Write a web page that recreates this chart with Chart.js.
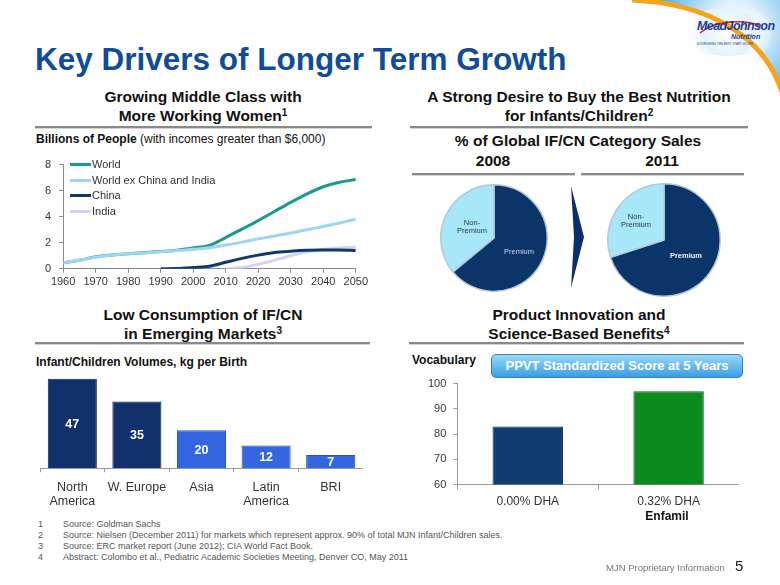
<!DOCTYPE html>
<html>
<head>
<meta charset="utf-8">
<script src="https://cdn.jsdelivr.net/npm/chart.js@4.4.1/dist/chart.umd.min.js"></script>
<style>
  html,body{margin:0;padding:0;background:#fff;}
  #slide{position:relative;width:780px;height:585px;overflow:hidden;background:#fff;font-family:"Liberation Sans",Arial,Helvetica,sans-serif;color:#111;}
  .a{position:absolute;white-space:nowrap;}
  .title{left:35px;top:41px;font-size:31.5px;font-weight:bold;color:#0F4C9A;line-height:36px;}
  .hd{font-size:15.5px;font-weight:bold;text-align:center;line-height:19px;transform:translateX(-50%);}
  .hd sup{font-size:10px;line-height:0;vertical-align:5px;}
  .rule{position:absolute;height:2px;background:#8a8a8a;border-bottom:1px solid #d4d4d4;}
  .sub{font-size:12px;line-height:14px;color:#111;}
  .sub b{font-weight:bold;}
  canvas{position:absolute;}
  .leg{font-size:11px;line-height:13px;color:#333;}
  .sw{position:absolute;left:-22px;top:5px;width:21px;height:3px;}
  .plab{font-size:7.5px;line-height:8px;text-align:center;transform:translate(-50%,-50%);}
  .foot{font-size:9px;line-height:11px;color:#555;}
  .banner{left:491px;top:354px;width:252px;height:24px;border-radius:5px;border:1px solid #2E86CF;box-sizing:border-box;
          background:linear-gradient(#9BD8F8,#63B9EE 55%,#3C9DE3);color:#fff;font-weight:bold;font-size:13px;line-height:22px;text-align:center;}
</style>
</head>
<body>
<div id="slide">
  <!-- top-right decoration -->
  <svg class="a" style="left:600px;top:0px" width="180" height="100" viewBox="600 0 180 100">
    <defs>
      <radialGradient id="sky" cx="735" cy="30" r="80" gradientUnits="userSpaceOnUse">
        <stop offset="0" stop-color="#ffffff"/>
        <stop offset="0.35" stop-color="#dff1fc"/>
        <stop offset="0.75" stop-color="#86c8ef"/>
        <stop offset="1" stop-color="#4ea6e1"/>
      </radialGradient>
      <radialGradient id="haze" cx="728" cy="32" r="45" gradientUnits="userSpaceOnUse">
        <stop offset="0" stop-color="#ffffff"/>
        <stop offset="0.55" stop-color="#e4f3fc"/>
        <stop offset="1" stop-color="#ffffff" stop-opacity="0"/>
      </radialGradient>
    </defs>
    <path d="M632 0 C700 3 762 30 782 92 L782 0 Z" fill="url(#sky)"/>
    <ellipse cx="728" cy="32" rx="52" ry="24" fill="url(#haze)"/>
    <path d="M632 0 C700 3 762 30 782 92" fill="none" stroke="#F4A51C" stroke-width="5"/>
    <path d="M700 33 C712 22 740 18 762 26" fill="none" stroke="#D4252F" stroke-width="1.6"/>
  </svg>
  <div class="a" style="left:697px;top:19px;font-size:12.5px;font-weight:bold;font-style:italic;color:#1F3C8E;letter-spacing:-0.6px;">MeadJohnson</div>
  <div class="a" style="left:731px;top:33px;font-size:7px;font-weight:bold;font-style:italic;color:#1F3C8E;">Nutrition</div>
  <div class="a" style="left:697px;top:42px;font-size:3px;color:#1F3C8E;">NOURISHING THE BEST START IN LIFE</div>

  <div class="a title">Key Drivers of Longer Term Growth</div>

  <!-- section headings -->
  <div class="a hd" style="left:203px;top:87px;">Growing Middle Class with<br>More Working Women<sup>1</sup></div>
  <div class="a hd" style="left:579px;top:87px;">A Strong Desire to Buy the Best Nutrition<br>for Infants/Children<sup>2</sup></div>
  <div class="rule" style="left:35px;top:126px;width:337px;"></div>
  <div class="rule" style="left:410px;top:126px;width:338px;"></div>

  <div class="a sub" style="left:36px;top:132px;"><b>Billions of People</b> (with incomes greater than $6,000)</div>

  <div class="a hd" style="left:578px;top:131px;">% of Global IF/CN Category Sales</div>
  <div class="a hd" style="left:493px;top:151px;">2008</div>
  <div class="a hd" style="left:662px;top:151px;">2011</div>
  <div class="rule" style="left:412px;top:173px;width:163px;"></div>
  <div class="rule" style="left:581px;top:173px;width:163px;"></div>

  <div class="a hd" style="left:203px;top:306px;line-height:18.5px;">Low Consumption of IF/CN<br>in Emerging Markets<sup>3</sup></div>
  <div class="a hd" style="left:579px;top:306px;line-height:18.5px;">Product Innovation and<br>Science-Based Benefits<sup>4</sup></div>
  <div class="rule" style="left:35px;top:342px;width:335px;"></div>
  <div class="rule" style="left:409px;top:342px;width:335px;"></div>

  <div class="a sub" style="left:36px;top:355px;"><b>Infant/Children Volumes, kg per Birth</b></div>
  <div class="a sub" style="left:412px;top:353px;"><b>Vocabulary</b></div>
  <div class="a banner">PPVT Standardized Score at 5 Years</div>

  <!-- line chart -->
  <canvas id="cLine" width="334" height="142" style="left:37px;top:150px;"></canvas>
  <div id="lineLegend"></div>

  <!-- pies -->
  <canvas id="cPie08" width="110" height="110" style="left:439px;top:183px;"></canvas>
  <canvas id="cPie11" width="116" height="116" style="left:606px;top:182px;"></canvas>
  <div class="a" style="left:570px;top:186px;width:15px;height:102px;background:#0B2F6E;clip-path:polygon(1px 0,14px 51px,1px 102px,4px 51px);"></div>
  <div class="a plab" style="left:472px;top:227px;color:#2a3a4a;">Non-<br>Premium</div>
  <div class="a plab" style="left:519px;top:252px;color:#c9d6e6;">Premium</div>
  <div class="a plab" style="left:636px;top:221px;color:#2a3a4a;">Non-<br>Premium</div>
  <div class="a plab" style="left:686px;top:256px;color:#f0f4f8;font-weight:bold;">Premium</div>

  <!-- bar charts -->
  <canvas id="cBar1" width="323" height="146" style="left:40px;top:371px;"></canvas>
  <canvas id="cBar2" width="318" height="144" style="left:421px;top:370px;"></canvas>
  <div class="a" style="left:667px;top:509px;transform:translateX(-50%);font-size:12px;font-weight:bold;line-height:14px;">Enfamil</div>

  <!-- footnotes -->
  <div class="a foot" style="left:38px;top:519px;">1<br>2<br>3<br>4</div>
  <div class="a foot" style="left:63px;top:519px;">Source: Goldman Sachs<br>Source: Nielsen (December 2011) for markets which represent approx. 90% of total MJN Infant/Children sales.<br>Source: ERC market report (June 2012); CIA World Fact Book.<br>Abstract: Colombo et al., Pediatric Academic Societies Meeting, Denver CO, May 2011</div>
  <div class="a" style="left:606px;top:562px;font-size:9.5px;line-height:12px;color:#777;">MJN Proprietary Information</div>
  <div class="a" style="left:735px;top:557px;font-size:15px;line-height:18px;color:#222;">5</div>
</div>

<script>
// ---------- data ----------
const years       = [1960,1965,1970,1975,1980,1985,1990,1995,2000,2005,2010,2015,2020,2025,2030,2035,2040,2045,2050];
const worldVals   = [0.47,0.65,0.92,1.06,1.16,1.24,1.32,1.43,1.60,1.80,2.40,3.05,3.70,4.40,5.10,5.75,6.30,6.65,6.85];
const worldExVals = [0.47,0.65,0.90,1.05,1.15,1.22,1.30,1.40,1.50,1.62,1.82,2.05,2.30,2.52,2.75,3.00,3.25,3.52,3.80];
const chinaVals   = [null,null,null,null,null,null,0,0.02,0.10,0.20,0.50,0.80,1.05,1.25,1.35,1.42,1.45,1.45,1.40];
const indiaVals   = [null,null,null,null,null,null,null,null,null,null,0,0.10,0.35,0.65,1.00,1.30,1.50,1.60,1.65];
const lineSeries  = ['World','World ex China and India','China','India'];
const yearTicks   = {min:1960, max:2050, step:10};
const peopleTicks = {min:0, max:8, step:2};

const pieLabels = ['Premium','Non-Premium'];
const pie2008   = [64,36];
const pie2011   = [70,30];

const regions = [['North','America'],'W. Europe','Asia',['Latin','America'],'BRI'];
const volumes = [47,35,20,12,7];

const dhaLabels   = ['0.00% DHA','0.32% DHA'];
const vocabScores = [83,97];
const vocabTicks  = {min:60, max:100, step:10};

// ---------- styles ----------
const FONT = '"Liberation Sans", Arial, sans-serif';
const lineColors = {'World':'#1B9A8B','World ex China and India':'#9DD5F5','China':'#0E3A6E','India':'#D3D3F2'};
const premColor = '#0B3468', nonPremColor = '#A6E7FA';
const navy = '#10316B', blue = '#3366E0';

Chart.defaults.font.family = FONT;
Chart.defaults.color = '#333';
Chart.defaults.animation = false;

// ---------- line chart ----------
const toPts = vals => years.map((y,i)=>({x:y, y:vals[i]}));
const seriesVals = {'World':worldVals,'World ex China and India':worldExVals,'China':chinaVals,'India':indiaVals};
const drawOrder = ['World ex China and India','World','China','India']; // first drawn on top
new Chart(document.getElementById('cLine'), {
  type:'line',
  data:{datasets: drawOrder.map(n=>({label:n, data:toPts(seriesVals[n]), borderColor:lineColors[n], backgroundColor:lineColors[n]}))},
  options:{
    responsive:false, animation:false,
    plugins:{legend:{display:false}, tooltip:{enabled:false}},
    elements:{point:{radius:0}, line:{borderWidth:3, cubicInterpolationMode:'monotone'}},
    scales:{
      x:{type:'linear', min:yearTicks.min, max:yearTicks.max,
         ticks:{stepSize:yearTicks.step, callback:v=>String(v), font:{size:11}, color:'#333', padding:3, maxRotation:0, autoSkip:false},
         grid:{drawOnChartArea:false, tickLength:4, color:'#8a8a8a'}, border:{color:'#8a8a8a'}},
      y:{min:peopleTicks.min, max:peopleTicks.max,
         ticks:{stepSize:peopleTicks.step, font:{size:11}, color:'#333', padding:8},
         grid:{drawOnChartArea:false, tickLength:4, color:'#8a8a8a'}, border:{color:'#8a8a8a'}}
    }
  }
});
// legend (inside plot, top-left)
const legWrap = document.getElementById('lineLegend');
lineSeries.forEach((n,i)=>{
  const d = document.createElement('div');
  d.className = 'a leg';
  d.style.left = '92px';
  d.style.top = (158 + i*15.6) + 'px';
  d.innerHTML = '<span class="sw" style="background:'+lineColors[n]+'"></span>' + n;
  legWrap.appendChild(d);
});

// ---------- pies ----------
function makePie(id, vals){
  new Chart(document.getElementById(id), {
    type:'pie',
    data:{labels:pieLabels, datasets:[{data:vals, backgroundColor:[premColor, nonPremColor], borderColor:'#B4C8DC', borderWidth:1.5}]},
    options:{responsive:false, animation:false, layout:{padding:1},
      plugins:{legend:{display:false}, tooltip:{enabled:false}}}
  });
}
makePie('cPie08', pie2008);
makePie('cPie11', pie2011);

// ---------- bar chart 1 ----------
const barValues = {
  id:'barValues',
  afterDatasetsDraw(chart){
    const {ctx} = chart; const meta = chart.getDatasetMeta(0); const ds = chart.data.datasets[0];
    ctx.save();
    ctx.font = 'bold 12.5px ' + FONT; ctx.fillStyle = '#fff';
    ctx.textAlign = 'center'; ctx.textBaseline = 'middle';
    meta.data.forEach((bar,i)=>ctx.fillText(String(ds.data[i]), bar.x, (bar.y + bar.base)/2 + 1));
    ctx.restore();
  }
};
new Chart(document.getElementById('cBar1'), {
  type:'bar',
  data:{labels:regions, datasets:[{data:volumes,
    backgroundColor:volumes.map((v,i)=> i<2 ? navy : blue),
    borderColor:volumes.map((v,i)=> i<2 ? '#0A2452' : '#2450C0'), borderWidth:1,
    barPercentage:0.76, categoryPercentage:1}]},
  options:{responsive:false, animation:false, layout:{padding:{top:2}},
    plugins:{legend:{display:false}, tooltip:{enabled:false}},
    scales:{
      x:{grid:{offset:true, drawOnChartArea:false, tickLength:4, color:'#9a9a9a'}, border:{color:'#9a9a9a'},
         ticks:{font:{size:12.5, lineHeight:1.15}, color:'#333', padding:8, maxRotation:0, autoSkip:false}},
      y:{display:false, min:0, max:50}
    }},
  plugins:[barValues]
});

// ---------- bar chart 2 ----------
new Chart(document.getElementById('cBar2'), {
  type:'bar',
  data:{labels:dhaLabels, datasets:[{data:vocabScores,
    backgroundColor:['#123C74','#0B8A1E'], borderColor:['#0A2852','#06661A'], borderWidth:1,
    barPercentage:0.5, categoryPercentage:1}]},
  options:{responsive:false, animation:false,
    plugins:{legend:{display:false}, tooltip:{enabled:false}},
    scales:{
      x:{grid:{offset:true, drawOnChartArea:false, tickLength:5, color:'#9a9a9a'}, border:{color:'#9a9a9a'},
         ticks:{font:{size:12}, color:'#333', padding:5}},
      y:{min:vocabTicks.min, max:vocabTicks.max,
         ticks:{stepSize:vocabTicks.step, font:{size:11}, color:'#333', padding:7},
         grid:{drawOnChartArea:false, tickLength:4, color:'#9a9a9a'}, border:{color:'#9a9a9a'}}
    }}
});
</script>
</body>
</html>
